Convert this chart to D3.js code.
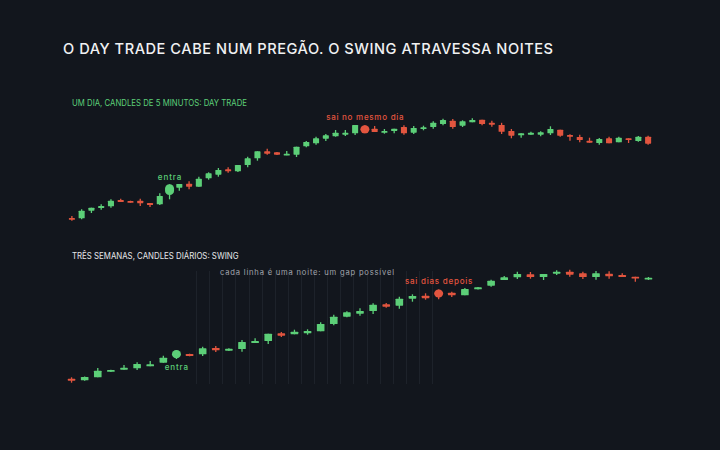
<!DOCTYPE html>
<html>
<head>
<meta charset="utf-8">
<script src="https://cdn.jsdelivr.net/npm/d3@7"></script>
<style>
  html, body { margin: 0; padding: 0; background: #12161d; }
  svg { display: block; }
</style>
</head>
<body>
<svg id="chart" width="720" height="450"></svg>
<script>
// ---- DATA ----
const title = "O DAY TRADE CABE NUM PREGÃO. O SWING ATRAVESSA NOITES";
const topLabel = "UM DIA, CANDLES DE 5 MINUTOS: DAY TRADE";
const botLabel = "TRÊS SEMANAS, CANDLES DIÁRIOS: SWING";

// Top panel: 60 candles of 5 minutes (arbitrary price units)
const topOpen  = [12,11.7,19.3,22,23.7,30,29,29.3,27,25.7, 35,42.3,46.3,43.3,51.7,55.3,60.7,58.7,65,71.7,
                  78.7,77.7,74.7,75.3,83.7,86.7,91.3,93.7,95.3,96.7, 104.7,101.3,97.3,99,103,97.3,101,103,106,109.3,
                  104.3,107.7,110.3,107.3,105,99,94.7,95.3,95.3,96.7, 100.3,95,93,89.3,87,91.7,87.7,91.7,89,93.3];
const topClose = [10.7,19.3,22.3,24,29.3,28,27.7,26.7,25,34, 45.7,46,43.3,51.3,56.7,60,58.7,65,71.7,78.7,
                  76.3,75.3,76.3,83.3,88,91.7,94.7,97.3,97.3,105, 96.7,98,99,101.3,96.7,102,102.7,107.3,110,103,
                  108.7,110,106,105.3,98.2,94.3,96.7,97.3,97.7,101, 94.3,93.3,90,87.3,91,86.7,92.3,90.3,93.3,86.3];
const topHigh  = [14,20.7,22.3,25.7,30.7,31.3,29.3,31.3,27,36.7, 45.7,46,48.7,53.3,57.7,62,62.7,65,73.3,78.7,
                  81.3,78,79,83.3,89,93.3,96,100,100,105, 104.7,104,101,101.3,104.7,104,104.3,108.7,111.3,111,
                  109.7,111.7,110.3,109.3,107.2,101,96.7,98.3,98.7,103.7, 100.3,95.7,95.3,92.3,92,93.3,93.3,91.7,94,94.3];
const topLow   = [9.3,10.7,17,20.3,22.3,28,27.3,24,23,25, 30.7,39.3,40.7,43.3,50.3,53.3,57.3,58,62.7,69.3,
                  75.3,75,74.7,73,82.7,85.3,89,93.3,94,95, 96.7,98,96.3,96.7,95.3,96,99.7,101.3,104.7,101.3,
                  103,107.7,104.7,103.3,96,91.7,92.3,95.3,93.7,95, 93.3,89.3,87.7,87.3,85.3,86.7,87.7,87,88.3,85.3];
const topEntry = 10, topExit = 30;

// Bottom panel: 45 daily candles
const botOpen  = [11.3,9.7,12.7,18.3,20.3,21.7,23.7,27.3,31.7,36, 35.7,42,39.3,41,47,49,56.7,55.7,56.7,58.7,
                  66,73.3,76.3,79,85.7,84.3,91.3,94.3,100.5,97.3, 94.7,100.7,104.3,110,112.7,115.7,113,116.3,118.3,116.7,
                  113,116.3,115,113.3,110.7];
const botClose = [9.3,13,19.3,20,22.3,26,25.7,32.3,40,34, 41.7,39.7,41.3,48,49,56.3,54.3,58.3,59,66,
                  73.3,77.7,79,85.3,83.3,91.3,94,91.7,92.5,94.7, 101,102.7,109.3,112.7,116,113,116,118.3,115.3,113,
                  116.7,113.7,113,111.7,112.3];
const botHigh  = [12.7,13.5,22,20.3,25,27.7,29,34.3,40,36.3, 43.3,44,41.7,50,51.7,56.3,58,60.3,60.7,67.7,
                  75.3,78.7,81.7,86.7,87,93.3,95.7,96.7,100.5,98.3, 102,103,110.3,114,118.3,118,116,119.7,120.3,118.3,
                  119,118.7,116.7,113.3,113];
const botLow   = [7.3,9.2,12.7,18,20.3,20,23.7,27.3,31,33.7, 34,38,39,38.3,47,46,53,55.7,55.3,58.7,
                  64.7,72.7,74.3,76,82.3,81.3,88.3,90.3,90.7,93, 94.7,100.5,103.3,110,111,111.3,110,115,113.3,111,
                  110.3,111.3,113,108.3,110];
const botEntry = 8, botExit = 28;

// Annotations
const topEntryText = "entra";
const topExitText = "sai no mesmo dia";
const botEntryText = "entra";
const botExitText = "sai dias depois";
const nightText = "cada linha é uma noite: um gap possível";

// ---- STYLE ----
const GREEN = "#5ccf78";
const RED = "#e2553f";
const svg = d3.select("#chart");
svg.append("rect").attr("width", 720).attr("height", 450).attr("fill", "#12161d");

svg.append("text").attr("x", 63).attr("y", 54.3)
  .attr("fill", "#f0f1f2").attr("font-family", "Inter, Lato, sans-serif")
  .attr("font-size", 14.6).attr("font-weight", 500)
  .attr("textLength", 490).attr("lengthAdjust", "spacing")
  .text(title);

svg.append("text").attr("x", 72).attr("y", 106)
  .attr("fill", GREEN).attr("font-family", "Inter, Lato, sans-serif")
  .attr("font-size", 9).attr("textLength", 175).attr("lengthAdjust", "spacingAndGlyphs")
  .text(topLabel);

svg.append("text").attr("x", 72).attr("y", 259.3)
  .attr("fill", "#e6e7e9").attr("font-family", "Inter, Lato, sans-serif")
  .attr("font-size", 9).attr("textLength", 166.5).attr("lengthAdjust", "spacingAndGlyphs")
  .text(botLabel);

function makeRows(o, h, l, c) {
  return o.map((v, i) => ({ i, open: v, high: h[i], low: l[i], close: c[i] }));
}

function drawPanel(rows, x, y, entry, exit, baseFrac) {
  const g = svg.append("g");
  const bw = x.bandwidth() * baseFrac;
  const cx = i => x(i) + x.bandwidth() / 2;
  const col = d => d.close >= d.open ? GREEN : RED;
  const hi = d => d.i === entry || d.i === exit;
  const c = g.selectAll("g.c").data(rows).join("g").attr("class", "c");
  c.append("line")
    .attr("x1", d => cx(d.i)).attr("x2", d => cx(d.i))
    .attr("y1", d => y(d.high)).attr("y2", d => y(d.low))
    .attr("stroke", col).attr("stroke-width", 1.3);
  c.append("rect")
    .attr("x", d => cx(d.i) - (hi(d) ? 4.5 : bw / 2))
    .attr("width", d => hi(d) ? 9 : bw)
    .attr("y", d => y(Math.max(d.open, d.close)))
    .attr("height", d => Math.max(1.8, Math.abs(y(d.open) - y(d.close))))
    .attr("rx", d => hi(d) ? 4.3 : 0.6)
    .attr("fill", col);
  return cx;
}

// Top panel scales
const xTop = d3.scaleBand().domain(d3.range(topOpen.length)).range([67, 653]).padding(0);
const yTop = d3.scaleLinear().domain([0, 120]).range([230, 110]);
const cxTop = drawPanel(makeRows(topOpen, topHigh, topLow, topClose), xTop, yTop, topEntry, topExit, 0.62);

// Bottom panel scales
const xBot = d3.scaleBand().domain(d3.range(botOpen.length)).range([65, 655]).padding(0);
const yBot = d3.scaleLinear().domain([0, 120]).range([390, 270]);

// night lines (behind candles)
const nights = d3.range(botEntry + 2, botExit + 1);
function x0(i) { return Math.round(xBot(i)) + 0.5; }
svg.insert("g", "g").selectAll("line").data(nights).join("line")
  .attr("x1", i => x0(i)).attr("x2", i => x0(i))
  .attr("y1", 271).attr("y2", 384)
  .attr("stroke", "#1d222a").attr("stroke-width", 1);

const cxBot = drawPanel(makeRows(botOpen, botHigh, botLow, botClose), xBot, yBot, botEntry, botExit, 0.58);

// annotations
const ann = (txt, x, yv, fill, len) => svg.append("text")
  .attr("x", x).attr("y", yv).attr("text-anchor", "middle")
  .attr("fill", fill).attr("font-family", "Inter, 'Open Sans', sans-serif")
  .attr("font-size", 8).attr("font-weight", 500)
  .attr("textLength", len).attr("lengthAdjust", "spacing")
  .text(txt);

ann(topEntryText, cxTop(topEntry), 179.5, GREEN, 23.5);
ann(topExitText, cxTop(topExit), 119.7, RED, 77.5);
ann(botEntryText, cxBot(botEntry), 369.6, GREEN, 23.3);
ann(botExitText, cxBot(botExit), 283.8, RED, 67.5);
svg.append("text").attr("x", 220).attr("y", 274.6)
  .attr("fill", "#a2a6ad").attr("font-family", "Inter, 'Open Sans', sans-serif")
  .attr("font-size", 7.6).attr("textLength", 174).attr("lengthAdjust", "spacing")
  .text(nightText);
</script>
</body>
</html>
